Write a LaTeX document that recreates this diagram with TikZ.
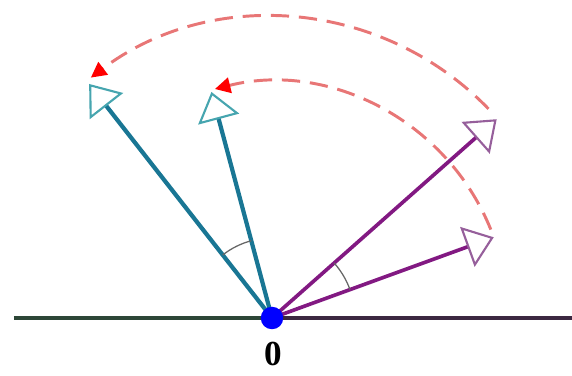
\documentclass[tikz,border=0pt]{standalone}
\usepackage{fontspec}
\usepackage{tikz}
\usetikzlibrary{arrows.meta}
\newfontfamily\labelfont{Liberation Serif}
\definecolor{vecteal}{RGB}{25,118,148}
\definecolor{headteal}{RGB}{70,165,175}
\definecolor{vecpurple}{RGB}{130,25,130}
\definecolor{headpurple}{RGB}{150,95,155}
\definecolor{rotred}{RGB}{232,118,118}
\definecolor{axisleft}{RGB}{45,70,55}
\definecolor{axisright}{RGB}{60,40,65}

\begin{document}
\begin{tikzpicture}[x=0.025cm,y=0.025cm,
    tealvec/.style={draw=vecteal,line width=3pt,
      -{Triangle[open,length=20pt,width=30pt,line width=1.5pt,color=headteal]}},
    purplevec/.style={draw=vecpurple,line width=2.6pt,
      -{Triangle[open,length=20pt,width=30pt,line width=1.5pt,color=headpurple]}},
    rotarc/.style={draw=rotred,line width=2.1pt,dash pattern=on 13pt off 7pt,
      -{Triangle[length=11pt,width=11pt,color=red]}},
    anglemark/.style={draw=black!60,line width=0.9pt},
    origin/.style={circle,fill=blue,minimum size=16,inner sep=0pt}]
\useasboundingbox (-272,-57) rectangle (300,318);
\coordinate (left) at (-258,0);
\coordinate (right) at (300,0);
\coordinate (tA) at (128:297);
\coordinate (tB) at (105:234);
\coordinate (pA) at (41.5:300);
\coordinate (pB) at (20:236);
\coordinate (sA) at (44:301);
\coordinate (sB) at (22:236);
\draw[axisleft,line width=2.6pt] (left) -- (0,0);
\draw[axisright,line width=2.6pt] (0,0) -- (right);
\draw[tealvec] (0,0) -- (tA);
\draw[tealvec] (0,0) -- (tB);
\draw[purplevec] (0,0) -- (pA);
\draw[purplevec] (0,0) -- (pB);
\draw[anglemark] (105:80) arc[start angle=105,end angle=128,radius=80];
\draw[anglemark] (20:83) arc[start angle=20,end angle=41.5,radius=83];
\draw[rotarc] (sA) arc[start angle=44,end angle=127,radius=301];
\draw[rotarc] (sB) arc[start angle=22,end angle=104,radius=236];
\node[origin] (O) at (0,0) {};
\node (zero) at (1,-36) {\labelfont\fontsize{25}{28}\selectfont\bfseries 0};
\end{tikzpicture}
\end{document}
